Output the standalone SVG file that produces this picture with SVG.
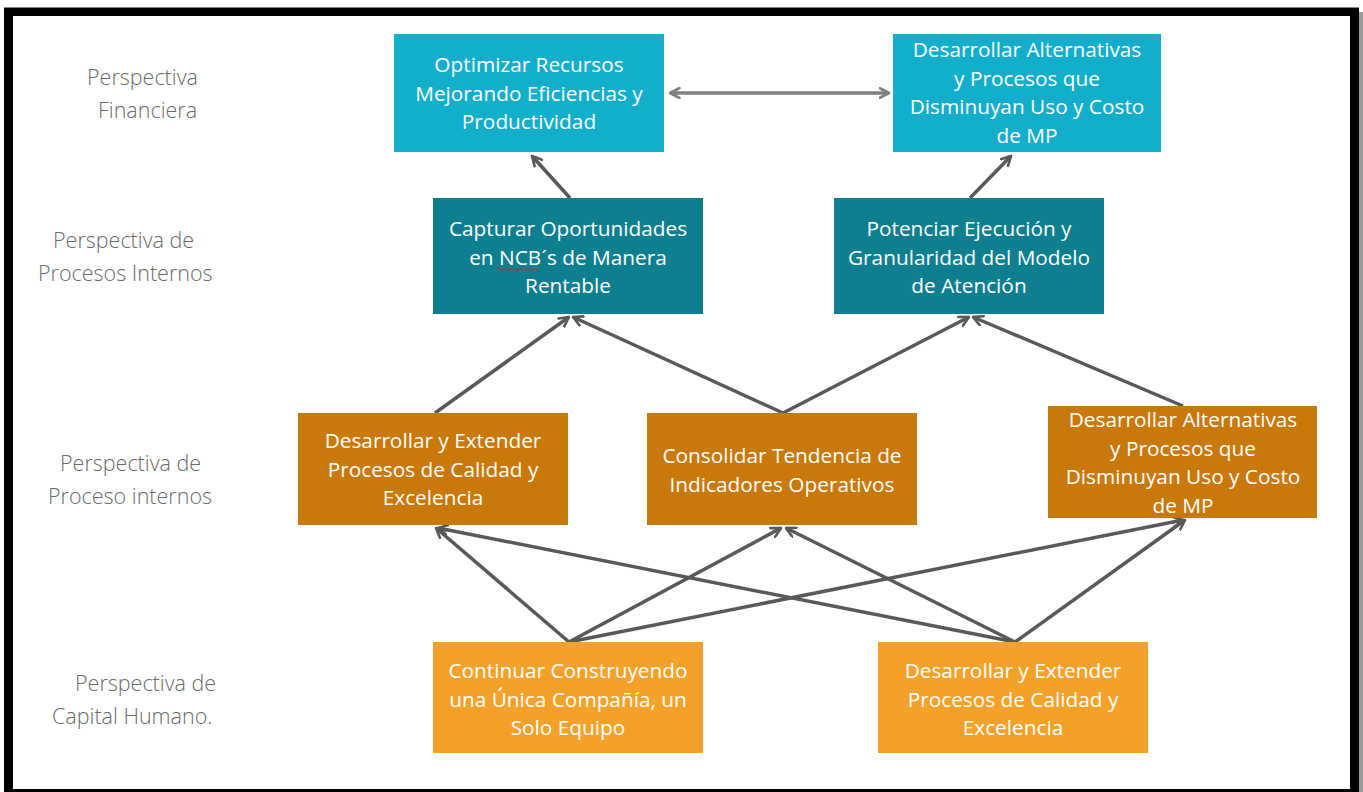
<svg xmlns="http://www.w3.org/2000/svg" width="1363" height="792" viewBox="0 0 1363 792">
<style>
.box{stroke:none}
.fin{fill:#13AECB}
.pro{fill:#0E7F8F}
.op{fill:#C9780A}
.hum{fill:#F4A12A}
.t{font-family:"Open Sans","Noto Sans",sans-serif;font-size:20.8px;fill:#FFFFFF;text-anchor:middle}
.lbl{font-family:"Open Sans","Noto Sans",sans-serif;font-size:21.5px;fill:#6A6A6A;font-weight:300}
.c{fill:none;stroke:#595959;stroke-width:3.5;marker-end:url(#ah)}
</style>
<defs>
<marker id="ah" viewBox="0 0 12 12" refX="10.5" refY="6" markerWidth="12" markerHeight="12" markerUnits="userSpaceOnUse" orient="auto">
<path d="M1,1 L10.5,6 L1,11" fill="none" stroke="#595959" stroke-width="2.6" stroke-linecap="round" stroke-linejoin="round"/>
</marker>
<marker id="ahg" viewBox="0 0 12 12" refX="10.5" refY="6" markerWidth="12" markerHeight="12" markerUnits="userSpaceOnUse" orient="auto-start-reverse">
<path d="M1,1 L10.5,6 L1,11" fill="none" stroke="#7F7F7F" stroke-width="2.6" stroke-linecap="round" stroke-linejoin="round"/>
</marker>
</defs>
<rect x="0" y="0" width="1363" height="792" fill="#FFFFFF"/>
<rect x="1358" y="12" width="5" height="780" fill="#9A9A9A"/>
<rect x="8.5" y="12" width="1346" height="778" fill="none" stroke="#000000" stroke-width="9"/>
<rect x="4" y="789" width="1354" height="3" fill="#000000"/>
<rect x="13" y="16" width="1337" height="773" fill="#FFFFFF"/>

<g id="labels">
<text class="lbl"><tspan x="87" y="85">Perspectiva</tspan><tspan x="98" y="118">Financiera</tspan></text>
<text class="lbl"><tspan x="53" y="248">Perspectiva de</tspan><tspan x="38" y="281">Procesos Internos</tspan></text>
<text class="lbl"><tspan x="60" y="471">Perspectiva de</tspan><tspan x="48" y="504">Proceso internos</tspan></text>
<text class="lbl"><tspan x="75" y="691">Perspectiva de</tspan><tspan x="52" y="724">Capital Humano.</tspan></text>
</g>

<g id="connectors">
<line x1="670" y1="93" x2="889" y2="93" stroke="#7F7F7F" stroke-width="3.5" marker-start="url(#ahg)" marker-end="url(#ahg)"/>
<line class="c" x1="570" y1="198" x2="532" y2="156"/>
<line class="c" x1="970" y1="198" x2="1011" y2="156"/>
<line class="c" x1="435" y1="413" x2="569" y2="317"/>
<line class="c" x1="783" y1="413" x2="573" y2="317"/>
<line class="c" x1="783" y1="413" x2="969" y2="317"/>
<line class="c" x1="1183" y1="406" x2="973" y2="317"/>
<line class="c" x1="569" y1="642" x2="436" y2="528"/>
<line class="c" x1="569" y1="642" x2="781" y2="528"/>
<line class="c" x1="569" y1="642" x2="1183" y2="520"/>
<line class="c" x1="1015" y1="642" x2="438" y2="528"/>
<line class="c" x1="1015" y1="642" x2="786" y2="528"/>
<line class="c" x1="1015" y1="642" x2="1185" y2="520"/>
</g>

<g id="n1">
<rect class="box fin" x="394" y="34" width="270" height="118"/>
<text class="t"><tspan x="529" y="72">Optimizar Recursos</tspan><tspan x="529" y="100.5">Mejorando Eficiencias y</tspan><tspan x="529" y="129">Productividad</tspan></text>
</g>
<g id="n2">
<rect class="box fin" x="893" y="34" width="268" height="118"/>
<text class="t"><tspan x="1027" y="57">Desarrollar Alternativas</tspan><tspan x="1027" y="85.5">y Procesos que</tspan><tspan x="1027" y="114">Disminuyan Uso y Costo</tspan><tspan x="1027" y="142.5">de MP</tspan></text>
</g>
<g id="n3">
<rect class="box pro" x="433" y="198" width="270" height="116"/>
<text class="t"><tspan x="568" y="236">Capturar Oportunidades</tspan><tspan x="568" y="264.5">en NCB´s de Manera</tspan><tspan x="568" y="293">Rentable</tspan></text>
<path d="M497,269.5 q1.5,-2 3,0 t3,0 t3,0 t3,0 t3,0 t3,0 t3,0 t3,0 t3,0 t3,0 t3,0 t3,0 t3,0 t3,0" fill="none" stroke="#E02020" stroke-width="1"/>
</g>
<g id="n4">
<rect class="box pro" x="834" y="198" width="270" height="116"/>
<text class="t"><tspan x="969" y="236">Potenciar Ejecución y</tspan><tspan x="969" y="264.5">Granularidad del Modelo</tspan><tspan x="969" y="293">de Atención</tspan></text>
</g>
<g id="n5">
<rect class="box op" x="298" y="413" width="270" height="112"/>
<text class="t"><tspan x="433" y="448">Desarrollar y Extender</tspan><tspan x="433" y="476.5">Procesos de Calidad y</tspan><tspan x="433" y="505">Excelencia</tspan></text>
</g>
<g id="n6">
<rect class="box op" x="647" y="413" width="270" height="112"/>
<text class="t"><tspan x="782" y="463">Consolidar Tendencia de</tspan><tspan x="782" y="491.5">Indicadores Operativos</tspan></text>
</g>
<g id="n7">
<rect class="box op" x="1048" y="406" width="269" height="112"/>
<text class="t"><tspan x="1183" y="427">Desarrollar Alternativas</tspan><tspan x="1183" y="455.5">y Procesos que</tspan><tspan x="1183" y="484">Disminuyan Uso y Costo</tspan><tspan x="1183" y="512.5">de MP</tspan></text>
</g>
<g id="n8">
<rect class="box hum" x="433" y="642" width="270" height="111"/>
<text class="t"><tspan x="568" y="678">Continuar Construyendo</tspan><tspan x="568" y="706.5">una Única Compañía, un</tspan><tspan x="568" y="735">Solo Equipo</tspan></text>
</g>
<g id="n9">
<rect class="box hum" x="878" y="642" width="270" height="111"/>
<text class="t"><tspan x="1013" y="678">Desarrollar y Extender</tspan><tspan x="1013" y="706.5">Procesos de Calidad y</tspan><tspan x="1013" y="735">Excelencia</tspan></text>
</g>
</svg>
